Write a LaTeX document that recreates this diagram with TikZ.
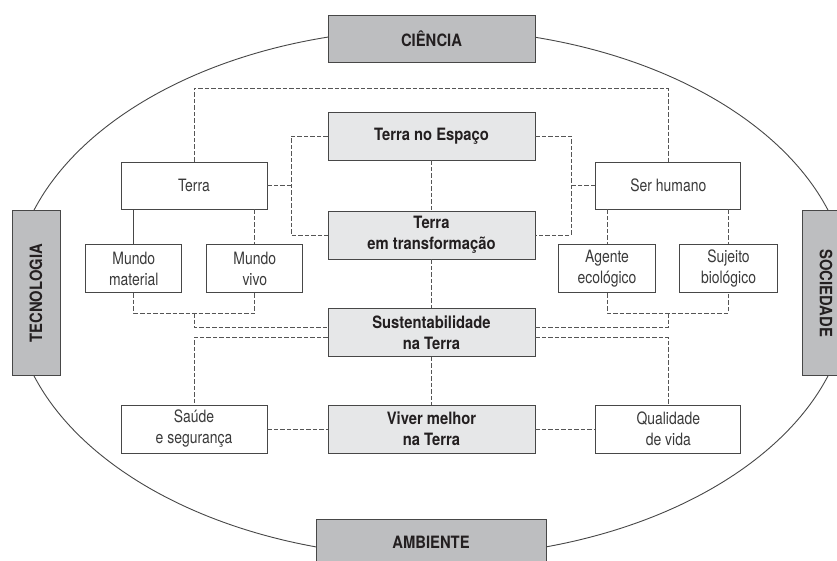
\documentclass[tikz,border=0pt]{standalone}
\usepackage{fontspec}
\setmainfont{TeX Gyre Heros}[FakeStretch=0.82, BoldFeatures={FakeStretch=0.87}]
\definecolor{linec}{HTML}{474747}
\definecolor{dashc}{HTML}{555555}
\definecolor{midgrey}{HTML}{BDBEC0}
\definecolor{lightgrey}{HTML}{E6E7E8}
\definecolor{txtc}{HTML}{3A3A3A}
\definecolor{darktxt}{HTML}{231F20}
\begin{document}
\begin{tikzpicture}[x=1pt,y=-1pt,
  box/.style={draw=linec, line width=0.9pt, fill=white, inner sep=0pt, align=center,
    text=txtc, font=\fontsize{17}{21}\selectfont},
  mainbox/.style={box, fill=lightgrey, text=darktxt, font=\bfseries\fontsize{17}{21}\selectfont},
  sidebox/.style={box, fill=midgrey, text=darktxt, font=\bfseries\fontsize{17}{21}\selectfont},
  conn/.style={draw=dashc, line width=0.8pt, dash pattern=on 4.5pt off 2pt},
  solidconn/.style={draw=linec, line width=0.8pt}]
\clip (0,0) rectangle (837,560);
\fill[white] (0,0) rectangle (837,560);
% ellipse
\draw[draw=linec, line width=0.9pt] (431,293) ellipse [x radius=418pt, y radius=264pt];
% outer nodes
\node[sidebox, minimum width=207pt, minimum height=47pt] (cien) at (431.5,38.5) {CIÊNCIA};
\node[sidebox, minimum width=230pt, minimum height=46pt] (amb) at (431,542) {AMBIENTE};
\node[sidebox, rotate=90, minimum width=165pt, minimum height=48pt] (tec) at (36,293.3) {TECNOLOGIA};
\node[sidebox, rotate=-90, minimum width=165pt, minimum height=48pt] (soc) at (826,293.3) {SOCIEDADE};
% central column
\node[mainbox, minimum width=207pt, minimum height=48pt] (tne) at (431.5,136) {Terra no Espaço};
\node[mainbox, minimum width=207pt, minimum height=48pt] (tet) at (431.5,235) {Terra\\em transformação};
\node[mainbox, minimum width=207pt, minimum height=48pt] (sus) at (431.5,332.5) {Sustentabilidade\\na Terra};
\node[mainbox, minimum width=207pt, minimum height=48pt] (viv) at (431.5,429) {Viver melhor\\na Terra};
% side nodes
\node[box, minimum width=146pt, minimum height=47pt] (terra) at (194,185.5) {Terra};
\node[box, minimum width=145pt, minimum height=47pt] (serh) at (668.3,185.5) {Ser humano};
\node[box, minimum width=96pt, minimum height=48.5pt] (mm) at (133.8,268.5) {Mundo\\material};
\node[box, minimum width=96pt, minimum height=48.5pt] (mv) at (254.8,268.5) {Mundo\\vivo};
\node[box, minimum width=96.5pt, minimum height=48.5pt] (ag) at (607,268.5) {Agente\\ecológico};
\node[box, minimum width=97.5pt, minimum height=48.5pt] (sj) at (728.5,268.5) {Sujeito\\biológico};
\node[box, minimum width=146pt, minimum height=48pt] (saude) at (194,429) {Saúde\\e segurança};
\node[box, minimum width=145pt, minimum height=48pt] (qual) at (668.3,429) {Qualidade\\de vida};
% helper coordinates
\coordinate (topy) at (0,88);
\coordinate (lx) at (291,0);
\coordinate (rx) at (571,0);
\coordinate (yA) at (0,313);
\coordinate (yB) at (0,327.3);
\coordinate (yC) at (0,337.3);
\coordinate (bl) at (194,0);
\coordinate (br) at (668.3,0);
% connectors
\draw[conn] (terra.north) -- (terra.north |- topy) -| (serh.north);
\draw[conn] (tne.west) -| (lx |- tet.west) -- (tet.west);
\draw[conn] (terra.east) -- (lx |- terra.east);
\draw[conn] (tne.east) -| (rx |- tet.east) -- (tet.east);
\draw[conn] (serh.west) -- (rx |- serh.west);
\draw[conn] (tne.south) -- (tet.north);
\draw[conn] (tet.south) -- (sus.north);
\draw[conn] (sus.south) -- (viv.north);
\draw[solidconn] (terra.south -| mm.north) -- (mm.north);
\draw[conn] (terra.south -| mv.north) -- (mv.north);
\draw[conn] (serh.south -| ag.north) -- (ag.north);
\draw[conn] (serh.south -| sj.north) -- (sj.north);
\draw[conn] (mm.south) -- (mm.south |- yA) -| (mv.south);
\draw[conn] (ag.south) -- (ag.south |- yA) -| (sj.south);
\draw[conn] (bl |- yA) -- (bl |- yB) -- (sus.west |- yB);
\draw[conn] (br |- yA) -- (br |- yB) -- (sus.east |- yB);
\draw[conn] (sus.west |- yC) -| (saude.north);
\draw[conn] (sus.east |- yC) -| (qual.north);
\draw[conn] (saude.east) -- (viv.west);
\draw[conn] (viv.east) -- (qual.west);
\end{tikzpicture}
\end{document}
